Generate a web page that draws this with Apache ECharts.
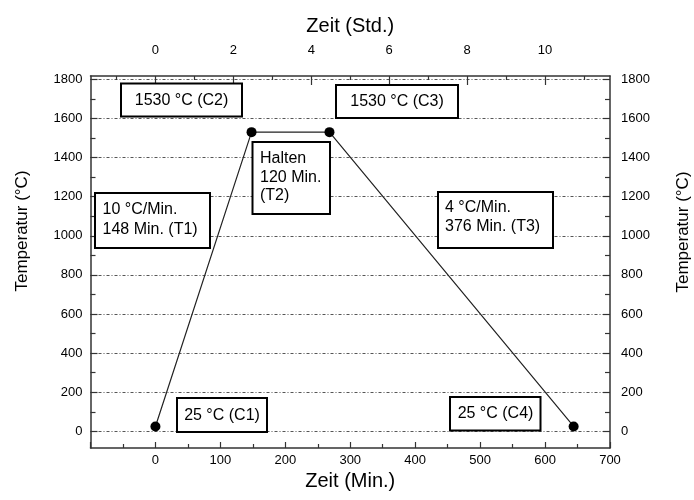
<!DOCTYPE html>
<html>
<head>
<meta charset="utf-8">
<script src="https://cdn.jsdelivr.net/npm/echarts@6/dist/echarts.min.js"></script>
<style>html,body{margin:0;padding:0;background:#fff}#c{width:694px;height:500px}</style>
</head>
<body>
<div id="c"></div>
<script>
// ---- data ----
const timeMin = [0, 148, 268, 644];
const tempC = [25, 1530, 1530, 25];
const minTicks = [0, 100, 200, 300, 400, 500, 600, 700];
const hourTicks = [0, 2, 4, 6, 8, 10];
const hourMinorTicks = [-1, 1, 3, 5, 7, 9, 11];
const tempTicks = [0, 200, 400, 600, 800, 1000, 1200, 1400, 1600, 1800];
const tempMinorTicks = [100, 300, 500, 700, 900, 1100, 1300, 1500, 1700];
const xRange = [-100, 700];
const yRange = [-85, 1817];
const boxLabels = [
  '1530 °C (C2)', '1530 °C (C3)', 'Halten\n120 Min.\n(T2)',
  '10 °C/Min.\n148 Min. (T1)', '4 °C/Min.\n376 Min. (T3)',
  '25 °C (C1)', '25 °C (C4)'
];

const FONT = '"Liberation Sans", Arial, sans-serif';
const AX = '#333';
const lbl = { color: '#000', fontSize: 13, fontFamily: FONT };

const chart = echarts.init(document.getElementById('c'), null, { renderer: 'canvas' });

function baseAxis(extra) {
  return Object.assign({
    type: 'value',
    axisLine: { show: false, onZero: false },
    axisTick: { show: false },
    axisLabel: { show: false },
    splitLine: { show: false }
  }, extra);
}

const xAxes = [
  baseAxis({
    position: 'bottom', min: xRange[0], max: xRange[1], interval: 100,
    name: 'Zeit (Min.)', nameLocation: 'middle', nameGap: 22,
    nameTextStyle: { color: '#000', fontSize: 20, fontFamily: FONT },
    axisLine: { show: true, onZero: false, lineStyle: { color: AX, width: 1.5 } },
    axisTick: { show: true, inside: true, length: 6, lineStyle: { color: AX, width: 1.2 } },
    minorTick: { show: true, splitNumber: 2, length: 4, lineStyle: { color: AX, width: 1.2 } },
    axisLabel: Object.assign({ show: true, margin: 6,
      formatter: v => (minTicks.indexOf(v) >= 0 ? String(v) : '') }, lbl)
  }),
  baseAxis({
    position: 'top', min: xRange[0], max: xRange[1],
    name: 'Zeit (Std.)', nameLocation: 'middle', nameGap: 40,
    nameTextStyle: { color: '#000', fontSize: 20, fontFamily: FONT },
    axisLine: { show: true, onZero: false, lineStyle: { color: AX, width: 1.5 } },
    axisTick: { show: true, inside: true, length: 9, lineStyle: { color: AX, width: 1.2 },
      customValues: hourTicks.map(h => h * 60) },
    axisLabel: Object.assign({ show: true, margin: 19,
      customValues: hourTicks.map(h => h * 60), formatter: v => String(Math.round(v / 60)) }, lbl)
  }),
  baseAxis({
    position: 'top', min: xRange[0], max: xRange[1],
    axisTick: { show: true, inside: true, length: 4, lineStyle: { color: AX, width: 1.2 },
      customValues: hourMinorTicks.map(h => h * 60) }
  })
];

const yAxes = [
  baseAxis({
    position: 'left', min: yRange[0], max: yRange[1],
    axisLine: { show: true, onZero: false, lineStyle: { color: AX, width: 1.5 } },
    axisTick: { show: true, inside: true, length: 7, lineStyle: { color: AX, width: 1.2 }, customValues: tempTicks },
    axisLabel: Object.assign({ show: true, margin: 8, customValues: tempTicks, formatter: v => String(v) }, lbl),
    splitLine: { show: true, lineStyle: { color: '#555', width: 1, type: [3, 2, 1, 2] } }
  }),
  baseAxis({
    position: 'left', min: yRange[0], max: yRange[1],
    axisTick: { show: true, inside: true, length: 5, lineStyle: { color: AX, width: 1.2 }, customValues: tempMinorTicks }
  }),
  baseAxis({
    position: 'right', min: yRange[0], max: yRange[1],
    axisLine: { show: true, onZero: false, lineStyle: { color: AX, width: 1.5 } },
    axisTick: { show: true, inside: true, length: 7, lineStyle: { color: AX, width: 1.2 }, customValues: tempTicks },
    axisLabel: Object.assign({ show: true, margin: 11, customValues: tempTicks, formatter: v => String(v) }, lbl)
  }),
  baseAxis({
    position: 'right', min: yRange[0], max: yRange[1],
    axisTick: { show: true, inside: true, length: 5, lineStyle: { color: AX, width: 1.2 }, customValues: tempMinorTicks }
  })
];

function box(x, y, w, h) {
  return { type: 'rect', z: 100, shape: { x: x, y: y, width: w, height: h },
    style: { fill: '#fff', stroke: '#000', lineWidth: 2 } };
}
function ctext(t, x, y) {
  return { type: 'text', z: 101, x: x, y: y,
    style: { text: t, fill: '#000', font: '16px ' + FONT, textAlign: 'center', textVerticalAlign: 'middle' } };
}
function ltext(t, x, y, lh) {
  return { type: 'text', z: 101, x: x, y: y,
    style: { text: t, fill: '#000', font: '16px ' + FONT, textAlign: 'left', textVerticalAlign: 'top', lineHeight: lh } };
}

const graphics = [
  box(121, 83.5, 121, 33), ctext(boxLabels[0], 181.5, 100.5),
  box(336, 85, 122, 33), ctext(boxLabels[1], 397, 102),
  box(252.5, 142, 77.5, 72), ltext(boxLabels[2], 260, 149.5, 18.5),
  box(95, 193, 115, 55), ltext(boxLabels[3], 102.5, 199.5, 20),
  box(438, 192, 115, 56), ltext(boxLabels[4], 445, 198.5, 18.5),
  box(177, 398, 90, 34), ctext(boxLabels[5], 222, 415.5),
  box(450, 397, 90.5, 33.5), ctext(boxLabels[6], 495.5, 414),
  { type: 'text', z: 101, x: 22, y: 231, rotation: Math.PI / 2,
    style: { text: 'Temperatur (°C)', fill: '#000', font: '17px ' + FONT, textAlign: 'center', textVerticalAlign: 'middle' } },
  { type: 'text', z: 101, x: 683, y: 232, rotation: Math.PI / 2,
    style: { text: 'Temperatur (°C)', fill: '#000', font: '17px ' + FONT, textAlign: 'center', textVerticalAlign: 'middle' } }
];

chart.setOption({
  animation: false,
  backgroundColor: '#fff',
  grid: { left: 90.5, right: 84, top: 76, bottom: 52, containLabel: false },
  xAxis: xAxes,
  yAxis: yAxes,
  series: [{
    type: 'line',
    xAxisIndex: 0, yAxisIndex: 0,
    data: timeMin.map((t, i) => [t, tempC[i]]),
    symbol: 'circle', symbolSize: 10,
    itemStyle: { color: '#000' },
    lineStyle: { color: '#222', width: 1.2 },
    z: 5
  }],
  graphic: graphics
});
</script>
</body>
</html>
